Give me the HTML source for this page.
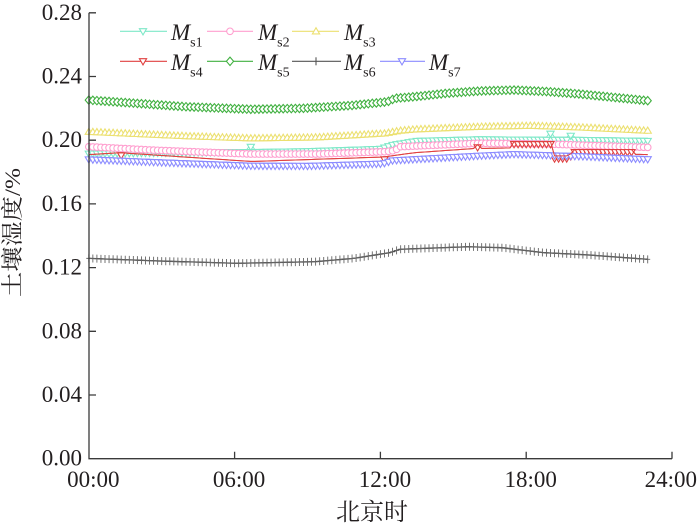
<!DOCTYPE html>
<html><head><meta charset="utf-8"><style>
html,body{margin:0;padding:0;background:#fff;}
svg{display:block;}
</style></head><body>
<svg id="c" width="700" height="525" viewBox="0 0 700 525" xmlns="http://www.w3.org/2000/svg">
<rect width="700" height="525" fill="#fff"/>
<g id="data"></g>
<g stroke="#3a3a3a" stroke-width="1.3" fill="none">
<path d="M89 12.8 V458.7 H672"/>
<path d="M89 12.8H96 M89 76.5H96 M89 140.2H96 M89 203.9H96 M89 267.6H96 M89 331.3H96 M89 395H96"/>
<path d="M234.6 458.7V451.7 M380.4 458.7V451.7 M526.2 458.7V451.7 M672 458.7V451.7"/>
</g>
<g font-family="'Liberation Serif', serif" font-size="23" fill="#231f20" text-anchor="end">
<text x="82" y="20">0.28</text>
<text x="82" y="83.5">0.24</text>
<text x="82" y="147.2">0.20</text>
<text x="82" y="210.9">0.16</text>
<text x="82" y="274.6">0.12</text>
<text x="82" y="338.3">0.08</text>
<text x="82" y="402">0.04</text>
<text x="82" y="465.7">0.00</text>
</g>
<g font-family="'Liberation Serif', serif" font-size="23" fill="#231f20" text-anchor="middle">
<text x="93.3" y="487">00:00</text>
<text x="239.1" y="487">06:00</text>
<text x="384.9" y="487">12:00</text>
<text x="530.7" y="487">18:00</text>
<text x="697" y="487" text-anchor="end">24:00</text>
</g>
<text x="372" y="520" font-family="'Liberation Serif','Noto Serif CJK SC',serif" font-size="24" fill="#231f20" text-anchor="middle">北京时</text>
<text transform="translate(20,297) rotate(-90)" x="0" y="0" font-family="'Liberation Serif','Noto Serif CJK SC',serif" font-size="22" fill="#231f20" textLength="129" lengthAdjust="spacingAndGlyphs">土壤湿度/%</text>
<g id="legend" stroke-width="1.1" fill="#fff">
<line x1="120" y1="31.3" x2="167" y2="31.3" stroke="#7fe8c8"/>
<polygon points="139.4,28.7 146.6,28.7 143,34.9" stroke="#7fe8c8"/>
<line x1="207" y1="31.3" x2="253" y2="31.3" stroke="#ff9fcf"/>
<circle cx="230" cy="31.3" r="3.3" stroke="#ff9fcf"/>
<line x1="292" y1="31.3" x2="339" y2="31.3" stroke="#ece070"/>
<polygon points="312.4,33.9 319.6,33.9 316,27.7" stroke="#ece070"/>
<line x1="120" y1="61.3" x2="167" y2="61.3" stroke="#e04040"/>
<polygon points="139.4,58.7 146.6,58.7 143,64.9" stroke="#e04040"/>
<line x1="207" y1="61.3" x2="253" y2="61.3" stroke="#40b040"/>
<polygon points="230,57.1 233.6,61.3 230,65.5 226.4,61.3" stroke="#40b040"/>
<line x1="292" y1="61.3" x2="341" y2="61.3" stroke="#555"/>
<path d="M316 57.3V65.3" stroke="#555"/>
<line x1="380" y1="61.3" x2="425" y2="61.3" stroke="#8c8cff"/>
<polygon points="398.4,58.7 405.6,58.7 402,64.9" stroke="#8c8cff"/>
</g>
<g font-family="'Liberation Serif', serif" fill="#231f20">
<text x="171" y="40" font-size="23" font-style="italic">M<tspan font-size="14" font-style="normal" dy="6.5">s1</tspan></text>
<text x="258" y="40" font-size="23" font-style="italic">M<tspan font-size="14" font-style="normal" dy="6.5">s2</tspan></text>
<text x="344" y="40" font-size="23" font-style="italic">M<tspan font-size="14" font-style="normal" dy="6.5">s3</tspan></text>
<text x="171" y="70" font-size="23" font-style="italic">M<tspan font-size="14" font-style="normal" dy="6.5">s4</tspan></text>
<text x="258" y="70" font-size="23" font-style="italic">M<tspan font-size="14" font-style="normal" dy="6.5">s5</tspan></text>
<text x="344" y="70" font-size="23" font-style="italic">M<tspan font-size="14" font-style="normal" dy="6.5">s6</tspan></text>
<text x="429" y="70" font-size="23" font-style="italic">M<tspan font-size="14" font-style="normal" dy="6.5">s7</tspan></text>
</g>
</svg>
<script>
(function(){
var NS="http://www.w3.org/2000/svg";
var g=document.getElementById('data');
function X(h){return 88.8+h*24.3;}
function Y(v){return 458.7-v*1592.5;}
function val(kp,h){
  for(var i=0;i<kp.length-1;i++){
    if(h<=kp[i+1][0]){var t=(h-kp[i][0])/(kp[i+1][0]-kp[i][0]);return kp[i][1]+(kp[i+1][1]-kp[i][1])*t;}
  }
  return kp[kp.length-1][1];
}
function el(name,attrs){var e=document.createElementNS(NS,name);for(var k in attrs)e.setAttribute(k,attrs[k]);g.appendChild(e);return e;}
function mk(type,x,y,color){
  var a={fill:'#fff',stroke:color,'stroke-width':1.1};
  if(type==='td'){a.points=(x-3.6)+','+(y-2.6)+' '+(x+3.6)+','+(y-2.6)+' '+x+','+(y+3.6);el('polygon',a);}
  else if(type==='tu'){a.points=(x-3.6)+','+(y+2.6)+' '+(x+3.6)+','+(y+2.6)+' '+x+','+(y-3.6);el('polygon',a);}
  else if(type==='c'){a.cx=x;a.cy=y;a.r=3.3;el('circle',a);}
  else if(type==='d'){a.points=x+','+(y-4.2)+' '+(x+3.6)+','+y+' '+x+','+(y+4.2)+' '+(x-3.6)+','+y;el('polygon',a);}
  else if(type==='p'){el('path',{d:'M'+x+' '+(y-4)+'V'+(y+4)+'M'+(x-2.5)+' '+y+'H'+(x+2.5),stroke:'#666','stroke-width':0.9,fill:'none'});}
}
var H=[];for(var i=0;i<=138;i++)H.push(i/6);
function near(h,t){return Math.abs(h-t)<0.05;}
var S=[
 {c:'#7fe8c8',t:'td',off:-2.6,kp:[[0,0.1915],[3,0.192],[6.5,0.1925],[6.55,0.1958],[6.72,0.1958],[6.77,0.1925],[9,0.193],[12,0.1945],[12.5,0.197],[13.5,0.1995],[16,0.2005],[18.9,0.2002],[19.0,0.204],[19.1,0.2002],[19.7,0.2002],[19.8,0.204],[19.9,0.2002],[23,0.1995]]},
 {c:'#ff9fcf',t:'c',off:0,kp:[[0,0.1959],[2.6,0.1938],[6.7,0.1913],[9.4,0.1913],[12.2,0.1928],[12.6,0.1935],[12.8,0.1959],[16.1,0.1981],[18.9,0.1976],[23,0.1955]]},
 {c:'#ece070',t:'tu',off:2.6,kp:[[0,0.2053],[4,0.2026],[6.7,0.2012],[9.4,0.2018],[12.2,0.2043],[12.8,0.206],[13.4,0.2068],[16.1,0.2085],[18.2,0.2091],[20.2,0.2081],[23,0.206]]},
 {c:'#e04040',t:'td',off:-2.6,red:true,kp:[[0,0.1893],[1.3,0.1905],[6.7,0.185],[12.1,0.1878],[13.4,0.1905],[15.9,0.1932],[16,0.1955],[16.1,0.1932],[17.4,0.1935],[17.45,0.1975],[19.05,0.1975],[19.1,0.1885],[19.8,0.1885],[19.9,0.1925],[22.4,0.1925],[22.5,0.1895],[23,0.1893]],
  vis:function(h){return near(h,1.333)||near(h,12.167)||near(h,16)||(h>=17.49&&h<=19.01)||(h>=19.16&&h<=19.84)||(h>=19.99&&h<=22.34);}},
 {c:'#40b040',t:'d',off:0,kp:[[0,0.2252],[1.9,0.2232],[4,0.221],[6.7,0.2194],[8.8,0.2200],[10.8,0.2218],[11.9,0.2235],[12.3,0.2242],[12.6,0.2263],[13.4,0.2273],[14.7,0.2294],[16.1,0.2309],[17.5,0.2315],[18.9,0.2305],[20.2,0.229],[21.6,0.2269],[23,0.2248]]},
 {c:'#2a2a2a',t:'p',off:0,kp:[[0,0.1258],[3,0.1241],[6.1,0.1227],[9.3,0.1237],[10.9,0.1258],[12.4,0.1294],[12.8,0.1315],[15.6,0.1331],[17,0.1325],[18.7,0.1294],[20.5,0.128],[23,0.1252]]},
 {c:'#8c8cff',t:'td',off:-2.6,kp:[[0,0.1879],[3,0.186],[6.7,0.1839],[9,0.1838],[12.1,0.1852],[12.5,0.1872],[13.4,0.188],[16.1,0.1902],[17.5,0.1912],[20.2,0.1899],[23,0.188]]}
];
var redLine=null;
S.forEach(function(s){
  var pts=H.map(function(h){return X(h).toFixed(2)+','+(Y(val(s.kp,h))+s.off).toFixed(2);}).join(' ');
  var lw=(s.t==='p')?1.3:1;
  el('polyline',{points:pts,fill:'none',stroke:s.c,'stroke-width':lw});
  if(s.red)redLine=pts;
  H.forEach(function(h){
    if(s.vis&&!s.vis(h))return;
    mk(s.t,X(h),Y(val(s.kp,h)),s.c);
  });
});
if(redLine)el('polyline',{points:redLine,fill:'none',stroke:'#e04040','stroke-width':1});
})();
</script>
</body></html>
